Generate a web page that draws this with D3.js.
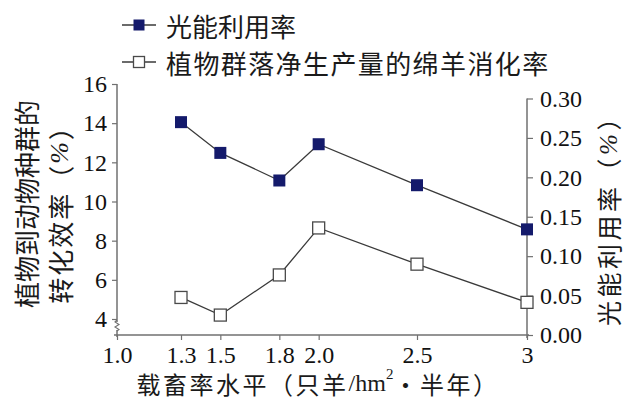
<!DOCTYPE html>
<html>
<head>
<meta charset="utf-8">
<script src="https://cdn.jsdelivr.net/npm/d3@7/dist/d3.min.js"></script>
<style>
  html, body { margin: 0; padding: 0; background: #fff; }
  svg { display: block; }
  .num { font-family: "Liberation Serif", "Times New Roman", Times, serif; }
  .cjk { font-family: "Noto Sans CJK SC", "Noto Sans", sans-serif; }
</style>
</head>
<body>
<svg id="chart" width="627" height="399"></svg>
<script>
// Stocking rate levels (sheep/hm²·half-year)
const stockingRates = [1.3, 1.5, 1.8, 2.0, 2.5, 3];
// Light-use efficiency (%), right axis
const lightUse = [0.270, 0.231, 0.196, 0.242, 0.190, 0.134];
// Sheep digestibility of plant community net production (%), left axis
const digestRate = [5.1, 4.2, 6.25, 8.65, 6.8, 4.85];

const xTickValues = [1.0, 1.3, 1.5, 1.8, 2.0, 2.5, 3];
const xTickLabels = ["1.0", "1.3", "1.5", "1.8", "2.0", "2.5", "3"];
const leftTicks = [4, 6, 8, 10, 12, 14, 16];
const rightTicks = [0.00, 0.05, 0.10, 0.15, 0.20, 0.25, 0.30];

const seriesNames = ["光能利用率", "植物群落净生产量的绵羊消化率"];

const svg = d3.select("#chart");
const axisColor = "#707070";
const lineColor = "#3a3a3a";
const navy = "#141a6b";

const x0 = 117, x1 = 527, yBase = 335;

// x scale is piecewise along the printed axis positions
const x = d3.scaleLinear().domain([1, 1.3, 2.5, 3]).range([117, 181, 417, 527]);
const yL = d3.scaleLinear().domain([4, 16]).range([319, 84]);
const yR = d3.scaleLinear().domain([0, 0.30]).range([yBase, 98.5]);

function styleTicks(g) {
  g.attr("font-family", null).attr("font-size", null);
  g.select(".domain").remove();
  g.selectAll(".tick line").attr("stroke", axisColor).attr("stroke-width", 1.2);
  g.selectAll(".tick text").attr("class", "num").attr("fill", "#111")
    .style("font-size", "24px");
}

// X axis
const xAxis = d3.axisBottom(x).tickValues(xTickValues)
  .tickFormat((d, i) => xTickLabels[i]).tickSize(5).tickSizeOuter(0);
const gx = svg.append("g").attr("transform", `translate(0,${yBase})`).call(xAxis);
styleTicks(gx);
gx.append("line").attr("x1", x0 - 3).attr("x2", x1 + 2).attr("y1", 0).attr("y2", 0)
  .attr("stroke", axisColor).attr("stroke-width", 1.5);
gx.selectAll(".tick text").attr("dy", "0.71em").attr("y", 11);

// Left axis
const leftAxis = d3.axisLeft(yL).tickValues(leftTicks).tickFormat(d3.format("d"))
  .tickSize(5).tickSizeOuter(0);
const gl = svg.append("g").attr("transform", `translate(${x0},0)`).call(leftAxis);
styleTicks(gl);
gl.append("line").attr("x1", 0).attr("x2", 0).attr("y1", yL(16)).attr("y2", yBase + 2)
  .attr("stroke", axisColor).attr("stroke-width", 1.5);
gl.selectAll(".tick text").attr("x", -10);

// Axis break on the left axis
gl.append("rect").attr("x", -3).attr("y", 322).attr("width", 6).attr("height", 8).attr("fill", "#fff");
gl.append("path").attr("d", "M0,320 L-2,322 L2,324.5 L-2,327 L2,329.5 L0,331")
  .attr("fill", "none").attr("stroke", axisColor).attr("stroke-width", 1.1);

// Right axis
const rightAxis = d3.axisRight(yR).tickValues(rightTicks).tickFormat(d3.format(".2f"))
  .tickSize(6).tickSizeOuter(0);
const gr = svg.append("g").attr("transform", `translate(${x1},0)`).call(rightAxis);
styleTicks(gr);
gr.append("line").attr("x1", 0).attr("x2", 0).attr("y1", yR(0.30)).attr("y2", yBase + 3)
  .attr("stroke", axisColor).attr("stroke-width", 1.5);
gr.selectAll(".tick text").attr("x", 13);

// Series lines and markers
const digestPts = stockingRates.map((r, i) => [x(r), yL(digestRate[i])]);
const lightPts = stockingRates.map((r, i) => [x(r), yR(lightUse[i])]);
const line = d3.line();

svg.append("path").attr("d", line(lightPts)).attr("fill", "none")
  .attr("stroke", lineColor).attr("stroke-width", 1.3);
svg.append("path").attr("d", line(digestPts)).attr("fill", "none")
  .attr("stroke", lineColor).attr("stroke-width", 1.3);

const sq = 12;
svg.selectAll(".light").data(lightPts).join("rect").attr("class", "light")
  .attr("x", d => d[0] - sq / 2).attr("y", d => d[1] - sq / 2)
  .attr("width", sq).attr("height", sq).attr("fill", navy);
svg.selectAll(".digest").data(digestPts).join("rect").attr("class", "digest")
  .attr("x", d => d[0] - sq / 2).attr("y", d => d[1] - sq / 2)
  .attr("width", sq).attr("height", sq).attr("fill", "#fff")
  .attr("stroke", "#4a4a4a").attr("stroke-width", 1.3);

// Legend
const legend = svg.append("g");
[25, 62].forEach((ly, i) => {
  legend.append("line").attr("x1", 122).attr("x2", 156).attr("y1", ly).attr("y2", ly)
    .attr("stroke", lineColor).attr("stroke-width", 1.3);
  const r = legend.append("rect").attr("x", 139 - 5.5).attr("y", ly - 5.5)
    .attr("width", 11).attr("height", 11);
  if (i === 0) r.attr("fill", navy);
  else r.attr("fill", "#fff").attr("stroke", "#4a4a4a").attr("stroke-width", 1.3);
  legend.append("text").attr("class", "cjk").attr("x", 166).attr("y", ly)
    .attr("dominant-baseline", "central").style("font-size", "26px")
    .style("letter-spacing", i === 1 ? "1.4px" : "0px")
    .attr("fill", "#1a1a1a").text(seriesNames[i]);
});

// Axis titles
function pctTitle(g, prefix) {
  g.append("tspan").text(prefix + "（");
  g.append("tspan").attr("class", "num").style("font-style", "italic").text("%");
  g.append("tspan").text("）");
}

svg.append("text").attr("class", "cjk").attr("transform", "translate(25,204) rotate(-90)")
  .attr("text-anchor", "middle").attr("dominant-baseline", "central")
  .style("font-size", "26px").attr("fill", "#1a1a1a")
  .text("植物到动物种群的");
const lt2 = svg.append("text").attr("class", "cjk").attr("transform", "translate(59,208) rotate(-90)")
  .attr("text-anchor", "middle").attr("dominant-baseline", "central")
  .style("font-size", "26px").style("letter-spacing", "2px").attr("fill", "#1a1a1a");
pctTitle(lt2, "转化效率");

const rt = svg.append("text").attr("class", "cjk").attr("transform", "translate(608,214) rotate(-90)")
  .attr("text-anchor", "middle").attr("dominant-baseline", "central")
  .style("font-size", "25px").style("letter-spacing", "3.5px").attr("fill", "#1a1a1a");
pctTitle(rt, "光能利用率");

const xt = svg.append("text").attr("class", "cjk").attr("x", 318).attr("y", 383)
  .attr("text-anchor", "middle").attr("dominant-baseline", "central")
  .style("font-size", "24px").style("letter-spacing", "2.5px").attr("fill", "#1a1a1a");
xt.append("tspan").text("载畜率水平（只羊");
xt.append("tspan").attr("class", "num").style("letter-spacing", "0px").text("/hm");
xt.append("tspan").attr("class", "num").style("letter-spacing", "0px")
  .style("font-size", "15px").attr("dy", -9).text("2");
xt.append("tspan").attr("dy", 9).text("・半年）");
</script>
</body>
</html>
